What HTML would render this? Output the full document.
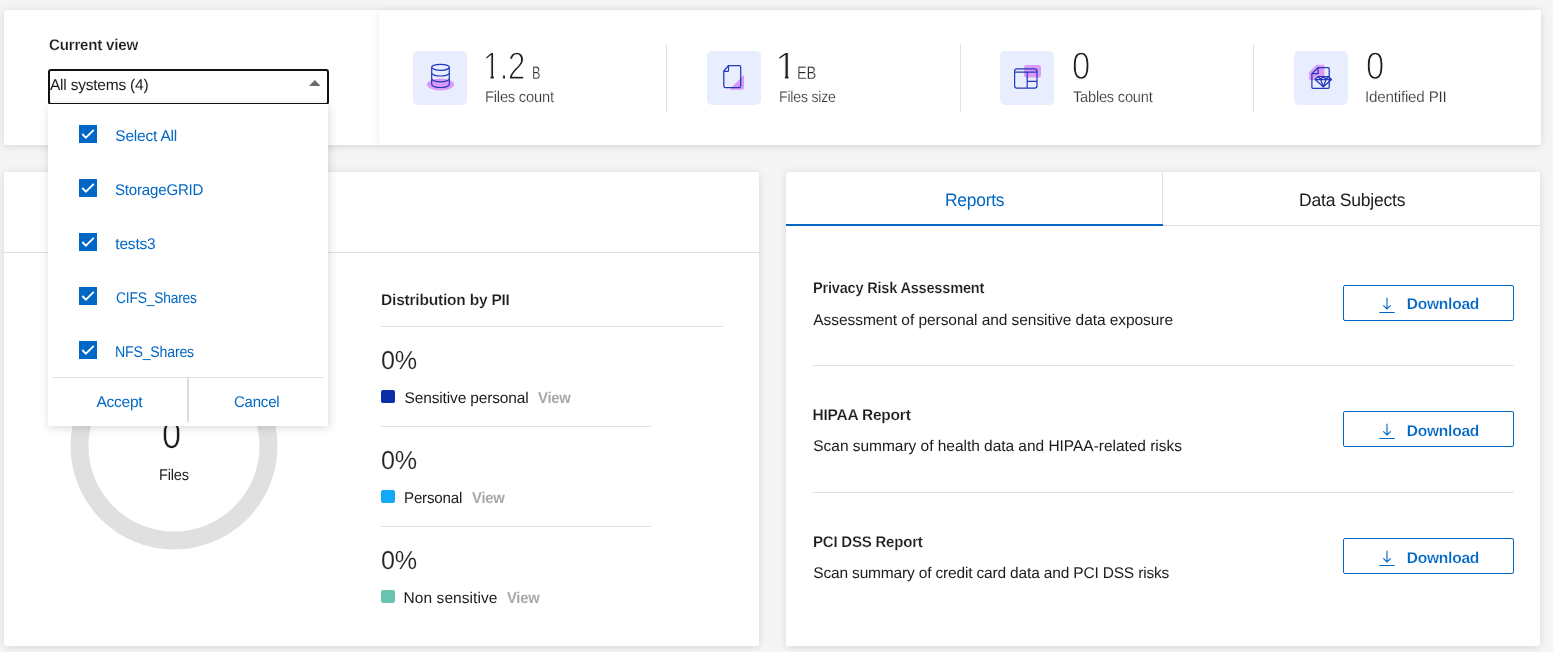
<!DOCTYPE html>
<html lang="en">
<head>
<meta charset="utf-8">
<title>Compliance dashboard</title>
<style>
*{box-sizing:border-box;margin:0;padding:0}
html,body{width:1553px;height:659px;overflow:hidden}
body{background:#fff;font-family:"Liberation Sans",sans-serif;color:#242424;position:relative}
.abs{position:absolute}
.card{position:absolute;background:#fff;border-radius:2px;box-shadow:0 1px 9px rgba(0,0,0,.13)}
.t{position:absolute;white-space:nowrap;line-height:1;transform-origin:0 0;text-rendering:geometricPrecision}
.hr{position:absolute;height:1px;background:#e1e1e1}
.vr{position:absolute;width:1px;background:#e1e1e1}
.ib{position:absolute;width:54px;height:54px;border-radius:5px;background:#e9eefe}
.ib svg{position:absolute;left:0;top:0}
.cb{position:absolute;left:79px;width:18px;height:18px;background:#0067c5}
.cb svg{position:absolute;left:0;top:0}
.btn{position:absolute;left:1343px;width:171px;height:36px;border:1px solid #0067c5;border-radius:2px;background:#fff}
.sw{position:absolute;left:381px;width:14px;height:13px;border-radius:2px}
</style>
</head>
<body>

<div class="abs" style="left:0;top:0;width:1553px;height:652px;background:#f5f5f5"></div>
<!-- top summary card -->
<div class="card" style="left:4px;top:10px;width:1537px;height:135px"></div>
<div class="card" style="left:379px;top:10px;width:1162px;height:135px;box-shadow:-2px 0 5px rgba(0,0,0,.05)"></div>
<div class="t" style="left:48.7px;top:38px;font-size:15.5px;color:#1c1c1c;font-weight:bold;letter-spacing:-0.22px;transform:scaleX(0.976);-webkit-text-stroke:.2px #fff;">Current view</div>
<!-- statistics -->
<div class="ib" style="left:413px;top:51px"><svg width="54" height="54" viewBox="0 0 54 54"><ellipse cx="27.500" cy="33.550" rx="13.550" ry="6" fill="#dc9af8"/><g fill="none" stroke="#2438ba" stroke-width="1.200"><ellipse cx="27.500" cy="16.300" rx="8.800" ry="3"/><path d="M18.700 16.300V33.500C18.700 35.100 22.600 36.500 27.500 36.500S36.300 35.100 36.300 33.500V16.300"/><path d="M18.700 22C18.700 23.600 22.600 25 27.500 25S36.300 23.600 36.300 22"/><path d="M18.700 27.800C18.700 29.400 22.600 30.800 27.500 30.800S36.300 29.400 36.300 27.800"/></g></svg></div>
<div class="t" style="left:483.08px;top:48px;font-size:38.5px;color:#1c1c1c;letter-spacing:-0.54px;transform:scaleX(0.808);-webkit-text-stroke:1.15px #fff;"><span style="display:inline-block;clip-path:polygon(0 0,100% 0,100% 27.500px,13.400px 27.500px,13.400px 100%,9.400px 100%,9.400px 27.500px,0 27.500px)">1</span>.2</div>
<div class="t" style="left:532.09px;top:64px;font-size:18px;color:#2a2a2a;transform:scaleX(0.709);-webkit-text-stroke:.3px #fff;">B</div>
<div class="t" style="left:484.75px;top:90px;font-size:15.5px;color:#333;letter-spacing:-0.22px;transform:scaleX(0.948);-webkit-text-stroke:.2px #fff;">Files count</div>
<div class="vr" style="left:666px;top:44px;height:68px"></div>
<div class="ib" style="left:707px;top:51px"><svg width="54" height="54" viewBox="0 0 54 54"><path d="M23.300 38.700Q22.300 38.700 23.100 37.900L36.200 24.400Q37 23.600 37 24.800V36.700Q37 38.700 35 38.700Z" fill="#dc9af8"/><path d="M21.300 14.600H32.300Q33.700 14.600 33.700 16V35.100Q33.700 36.500 32.300 36.500H18.200Q16.800 36.500 16.800 35.100V20Z M16.800 20.400H20.500Q21.500 20.400 21.500 19.400V14.600" fill="none" stroke="#2438ba" stroke-width="1.250" stroke-linejoin="round"/></svg></div>
<div class="t" style="left:775.3px;top:48px;font-size:38.5px;color:#1c1c1c;-webkit-text-stroke:1px #fff;clip-path:polygon(0 0,100% 0,100% 27.500px,13.200px 27.500px,13.200px 100%,9.600px 100%,9.600px 27.500px,0 27.500px);">1</div>
<div class="t" style="left:796.78px;top:64px;font-size:18px;color:#2a2a2a;letter-spacing:-0.25px;transform:scaleX(0.817);-webkit-text-stroke:.3px #fff;">EB</div>
<div class="t" style="left:778.69px;top:90px;font-size:15.5px;color:#333;letter-spacing:-0.22px;transform:scaleX(0.909);-webkit-text-stroke:.2px #fff;">Files size</div>
<div class="vr" style="left:960px;top:44px;height:68px"></div>
<div class="ib" style="left:1000px;top:51px"><svg width="54" height="54" viewBox="0 0 54 54"><rect x="24" y="13.900" width="17" height="12.500" rx="2.500" fill="#dc9af8"/><g fill="none" stroke="#2438ba" stroke-width="1.200"><rect x="14.600" y="17.800" width="22.400" height="19.400" rx="2.400"/><path d="M14.600 21.200H37M27.200 21.200V37.200M27.200 30.300H37"/></g></svg></div>
<div class="t" style="left:1072.35px;top:48px;font-size:38.5px;color:#1c1c1c;transform:scaleX(0.853);-webkit-text-stroke:1.15px #fff;">0</div>
<div class="t" style="left:1072.6px;top:90px;font-size:15.5px;color:#333;letter-spacing:-0.22px;transform:scaleX(0.942);-webkit-text-stroke:.2px #fff;">Tables count</div>
<div class="vr" style="left:1253px;top:44px;height:68px"></div>
<div class="ib" style="left:1294px;top:51px"><svg width="54" height="54" viewBox="0 0 54 54"><path d="M15.400 21.500L22.500 14.200H30V28.500H15.400Z" fill="#dc9af8" stroke="#dc9af8" stroke-width=".800" stroke-linejoin="round"/><path d="M21.100 28.500L24.300 25.500H34.300L37.500 28.500L29.300 35.800Z" fill="#eef2ff"/><g fill="none" stroke="#2438ba" stroke-width="1.250" stroke-linejoin="round"><path d="M24.100 16.700H34.100Q35.200 16.700 35.200 17.800V36.300Q35.200 37.400 34.100 37.400H19Q17.900 37.400 17.900 36.300V22.600Z"/><path d="M17.900 22.600H24.100V16.700"/><path d="M21.100 28.500L24.300 25.500H34.300L37.500 28.500L29.300 35.800Z"/><path d="M21.100 28.500H37.500M24.300 25.500L26.600 28.500L29.300 25.500L32 28.500L34.300 25.500M26.600 28.500L29.300 35.800L32 28.500"/></g></svg></div>
<div class="t" style="left:1365.75px;top:48px;font-size:38.5px;color:#1c1c1c;transform:scaleX(0.853);-webkit-text-stroke:1.15px #fff;">0</div>
<div class="t" style="left:1365.32px;top:90px;font-size:15.5px;color:#333;letter-spacing:-0.22px;transform:scaleX(0.982);-webkit-text-stroke:.2px #fff;">Identified PII</div>
<!-- distribution card -->
<div class="card" style="left:4px;top:172px;width:755px;height:474px"></div>
<div class="hr" style="left:4px;top:252px;width:755px"></div>
<svg class="abs" style="left:64px;top:336px" width="220" height="220" viewBox="0 0 220 220"><circle cx="110" cy="110" r="94.500" fill="none" stroke="#e0e0e0" stroke-width="18"/></svg>
<div class="t" style="left:162.22px;top:416px;font-size:39px;color:#1c1c1c;transform:scaleX(0.885);-webkit-text-stroke:.6px #fff;">0</div>
<div class="t" style="left:159.16px;top:468px;font-size:15.5px;color:#1c1c1c;letter-spacing:-0.22px;transform:scaleX(0.939);">Files</div>
<div class="t" style="left:381.1px;top:293px;font-size:15.5px;color:#1c1c1c;font-weight:bold;letter-spacing:-0.21px;-webkit-text-stroke:.2px #fff;">Distribution by PII</div>
<div class="hr" style="left:381px;top:326px;width:342px"></div>
<div class="t" style="left:381.13px;top:347px;font-size:26px;color:#222;letter-spacing:-0.36px;transform:scaleX(0.967);-webkit-text-stroke:.15px #fff;">0%</div>
<div class="sw" style="top:390px;background:#0b2ea6"></div>
<div class="t" style="left:404.6px;top:391px;font-size:15.5px;color:#1c1c1c;letter-spacing:-0.15px;">Sensitive personal</div>
<div class="t" style="left:537.8px;top:391px;font-size:15.5px;color:#a8a8a8;font-weight:bold;letter-spacing:-0.22px;transform:scaleX(0.957);">View</div>
<div class="hr" style="left:381px;top:426px;width:270px"></div>
<div class="t" style="left:381.13px;top:447px;font-size:26px;color:#222;letter-spacing:-0.36px;transform:scaleX(0.967);-webkit-text-stroke:.15px #fff;">0%</div>
<div class="sw" style="top:490px;background:#11a9f8"></div>
<div class="t" style="left:403.62px;top:491px;font-size:15.5px;color:#1c1c1c;letter-spacing:-0.22px;transform:scaleX(0.977);">Personal</div>
<div class="t" style="left:472px;top:491px;font-size:15.5px;color:#a8a8a8;font-weight:bold;letter-spacing:-0.22px;transform:scaleX(0.957);">View</div>
<div class="hr" style="left:381px;top:526px;width:270px"></div>
<div class="t" style="left:381.13px;top:547px;font-size:26px;color:#222;letter-spacing:-0.36px;transform:scaleX(0.967);-webkit-text-stroke:.15px #fff;">0%</div>
<div class="sw" style="top:590px;background:#6bc4b0"></div>
<div class="t" style="left:403.6px;top:591px;font-size:15.5px;color:#1c1c1c;letter-spacing:0.06px;">Non sensitive</div>
<div class="t" style="left:506.9px;top:591px;font-size:15.5px;color:#a8a8a8;font-weight:bold;letter-spacing:-0.22px;transform:scaleX(0.951);">View</div>
<!-- reports card -->
<div class="card" style="left:786px;top:172px;width:754px;height:474px"></div>
<div class="hr" style="left:786px;top:225px;width:754px"></div>
<div class="vr" style="left:1162px;top:172px;height:53px"></div>
<div class="abs" style="left:786px;top:224px;width:377px;height:2px;background:#0067c5"></div>
<div class="t" style="left:945.03px;top:191px;font-size:18px;color:#0067c5;letter-spacing:-0.25px;transform:scaleX(0.968);">Reports</div>
<div class="t" style="left:1298.82px;top:191px;font-size:18px;color:#1c1c1c;letter-spacing:-0.25px;transform:scaleX(0.977);">Data Subjects</div>
<div class="t" style="left:812.56px;top:281px;font-size:15.5px;color:#1c1c1c;font-weight:bold;letter-spacing:-0.22px;transform:scaleX(0.939);-webkit-text-stroke:.2px #fff;">Privacy Risk Assessment</div>
<div class="t" style="left:813.3px;top:313px;font-size:15.5px;color:#1c1c1c;letter-spacing:-0.06px;">Assessment of personal and sensitive data exposure</div>
<div class="btn" style="top:285px"><svg class="abs" style="left:35px;top:11px" width="18" height="18" viewBox="0 0 18 18"><path d="M8 .800V12M4.300 8.300L8 12L11.700 8.300M.300 15.500H15.700" fill="none" stroke="#0067c5" stroke-width="1.100"/></svg></div>
<div class="t" style="left:1406.7px;top:297px;font-size:15.5px;color:#0067c5;font-weight:bold;letter-spacing:-0.21px;-webkit-text-stroke:.2px #fff;">Download</div>
<div class="hr" style="left:813px;top:365px;width:701px"></div>
<div class="t" style="left:812.5px;top:408px;font-size:15.5px;color:#1c1c1c;font-weight:bold;letter-spacing:-0.22px;-webkit-text-stroke:.2px #fff;">HIPAA Report</div>
<div class="t" style="left:813.3px;top:439px;font-size:15.5px;color:#1c1c1c;letter-spacing:-0.03px;">Scan summary of health data and HIPAA-related risks</div>
<div class="btn" style="top:411px"><svg class="abs" style="left:35px;top:11px" width="18" height="18" viewBox="0 0 18 18"><path d="M8 .800V12M4.300 8.300L8 12L11.700 8.300M.300 15.500H15.700" fill="none" stroke="#0067c5" stroke-width="1.100"/></svg></div>
<div class="t" style="left:1406.7px;top:424px;font-size:15.5px;color:#0067c5;font-weight:bold;letter-spacing:-0.21px;-webkit-text-stroke:.2px #fff;">Download</div>
<div class="hr" style="left:813px;top:492px;width:701px"></div>
<div class="t" style="left:812.53px;top:535px;font-size:15.5px;color:#1c1c1c;font-weight:bold;letter-spacing:-0.22px;transform:scaleX(0.968);-webkit-text-stroke:.2px #fff;">PCI DSS Report</div>
<div class="t" style="left:813.3px;top:566px;font-size:15.5px;color:#1c1c1c;letter-spacing:-0.17px;">Scan summary of credit card data and PCI DSS risks</div>
<div class="btn" style="top:538px"><svg class="abs" style="left:35px;top:11px" width="18" height="18" viewBox="0 0 18 18"><path d="M8 .800V12M4.300 8.300L8 12L11.700 8.300M.300 15.500H15.700" fill="none" stroke="#0067c5" stroke-width="1.100"/></svg></div>
<div class="t" style="left:1406.7px;top:551px;font-size:15.5px;color:#0067c5;font-weight:bold;letter-spacing:-0.21px;-webkit-text-stroke:.2px #fff;">Download</div>
<!-- select + open dropdown -->
<div class="abs" style="left:48px;top:69px;width:281px;height:36px;background:#fff;border:2px solid #111;border-radius:3px"></div>
<div class="t" style="left:50px;top:78px;font-size:15.5px;color:#1c1c1c;letter-spacing:-0.22px;">All systems (4)</div>
<svg class="abs" style="left:308.700px;top:80px" width="12" height="6" viewBox="0 0 12 6"><path d="M0 6L5.800 0L11.600 6Z" fill="#6b6b6b"/></svg>
<div class="abs" style="left:48px;top:104px;width:280px;height:322px;background:#fff;box-shadow:1px 2px 9px rgba(0,0,0,.15)"></div>
<div class="cb" style="top:125px"><svg width="18" height="18" viewBox="0 0 18 18"><path d="M3.300 9L6.900 12.750L14.800 4.900" fill="none" stroke="#fff" stroke-width="1.900"/></svg></div>
<div class="t" style="left:115.3px;top:129px;font-size:15.5px;color:#0067c5;letter-spacing:-0.2px;">Select All</div>
<div class="cb" style="top:179px"><svg width="18" height="18" viewBox="0 0 18 18"><path d="M3.300 9L6.900 12.750L14.800 4.900" fill="none" stroke="#fff" stroke-width="1.900"/></svg></div>
<div class="t" style="left:115.3px;top:183px;font-size:15.5px;color:#0067c5;letter-spacing:-0.22px;transform:scaleX(0.974);">StorageGRID</div>
<div class="cb" style="top:233px"><svg width="18" height="18" viewBox="0 0 18 18"><path d="M3.300 9L6.900 12.750L14.800 4.900" fill="none" stroke="#fff" stroke-width="1.900"/></svg></div>
<div class="t" style="left:115.3px;top:237px;font-size:15.5px;color:#0067c5;letter-spacing:-0.19px;">tests3</div>
<div class="cb" style="top:287px"><svg width="18" height="18" viewBox="0 0 18 18"><path d="M3.300 9L6.900 12.750L14.800 4.900" fill="none" stroke="#fff" stroke-width="1.900"/></svg></div>
<div class="t" style="left:115.6px;top:291px;font-size:15.5px;color:#0067c5;letter-spacing:-0.22px;transform:scaleX(0.891);">CIFS_Shares</div>
<div class="cb" style="top:341px"><svg width="18" height="18" viewBox="0 0 18 18"><path d="M3.300 9L6.900 12.750L14.800 4.900" fill="none" stroke="#fff" stroke-width="1.900"/></svg></div>
<div class="t" style="left:115.09px;top:345px;font-size:15.5px;color:#0067c5;letter-spacing:-0.22px;transform:scaleX(0.912);">NFS_Shares</div>
<div class="hr" style="left:52px;top:377px;width:272px"></div>
<div class="abs" style="left:187px;top:378px;width:2px;height:44px;background:#dcdcdc"></div>
<div class="t" style="left:96.4px;top:395px;font-size:15.5px;color:#0067c5;letter-spacing:-0.22px;">Accept</div>
<div class="t" style="left:233.7px;top:395px;font-size:15.5px;color:#0067c5;letter-spacing:-0.22px;transform:scaleX(0.967);">Cancel</div>
<div class="abs" style="left:0;top:652px;width:1553px;height:7px;background:#fff"></div>

</body>
</html>
